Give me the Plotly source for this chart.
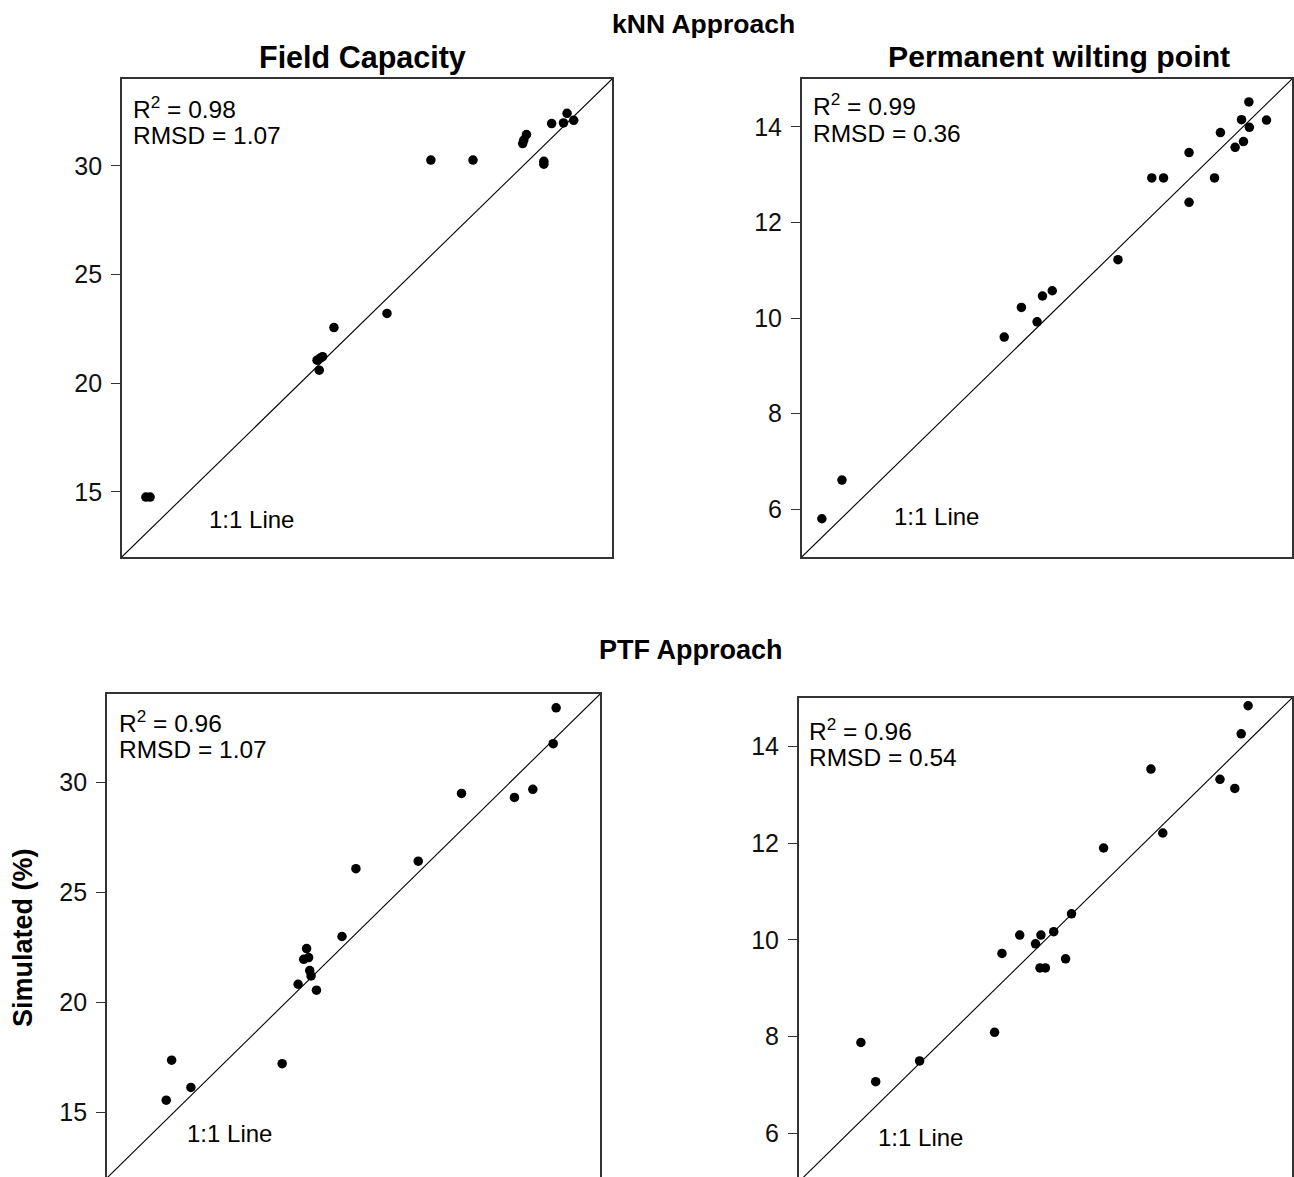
import plotly.graph_objects as go

# ---------------- data ----------------
# kNN approach - Field Capacity (measured vs simulated)
knn_fc_x = [13.08, 13.27, 20.76, 21.01, 20.86, 20.90, 21.52, 23.90, 25.87, 27.76,
            29.99, 30.04, 30.16, 30.94, 30.94, 31.29, 31.82, 31.98, 32.28]
knn_fc_y = [14.76, 14.76, 21.06, 21.22, 20.60, 21.15, 22.56, 23.21, 30.27, 30.27,
            31.03, 31.19, 31.44, 30.21, 30.08, 31.95, 31.98, 32.42, 32.10]

# kNN approach - Permanent wilting point
knn_pwp_x = [5.41, 5.82, 9.13, 9.48, 9.80, 9.91, 10.11, 11.45, 12.14, 12.38,
             12.90, 12.90, 13.42, 13.54, 13.84, 13.97, 14.01, 14.12, 14.13, 14.48]
knn_pwp_y = [5.80, 6.61, 9.60, 10.22, 9.92, 10.46, 10.57, 11.22, 12.93, 12.93,
             13.46, 12.42, 12.93, 13.88, 13.57, 14.15, 13.69, 14.52, 13.99, 14.14]

# PTF approach - Field Capacity
ptf_fc_x = [14.65, 14.89, 15.75, 19.82, 20.53, 20.78, 20.91, 21.00, 21.05, 21.11,
            21.35, 22.49, 23.11, 25.89, 27.82, 30.18, 31.00, 31.91, 32.04]
ptf_fc_y = [15.54, 17.36, 16.12, 17.20, 20.81, 21.94, 22.43, 22.02, 21.43, 21.19,
            20.54, 22.98, 26.06, 26.40, 29.48, 29.30, 29.67, 31.74, 33.37]

# PTF approach - Permanent wilting point
ptf_pwp_x = [6.26, 6.56, 7.45, 8.97, 9.12, 9.48, 9.80, 9.91, 9.89, 10.00,
             10.17, 10.41, 10.53, 11.18, 12.14, 12.38, 13.54, 13.84, 13.97, 14.11]
ptf_pwp_y = [7.88, 7.07, 7.50, 8.09, 9.72, 10.10, 9.92, 10.10, 9.42, 9.42,
             10.17, 9.61, 10.54, 11.90, 13.53, 12.21, 13.32, 13.13, 14.26, 14.84]

# 1:1 line end points
fc_line = [12, 34]
pwp_line = [5, 15]

fc_ticks = [15, 20, 25, 30]
pwp_ticks = [6, 8, 10, 12, 14]

stats = {
    1: ("0.98", "1.07"),
    2: ("0.99", "0.36"),
    3: ("0.96", "1.07"),
    4: ("0.96", "0.54"),
}

# ---------------- layout helpers ----------------
W, H = 1294, 1177
FONT = "Arial, 'Liberation Sans', sans-serif"


def px(xp):
    return xp / W


def py(yp):
    return 1 - yp / H


fig = go.Figure()

panels = [
    # (xaxis id, yaxis id, xs, ys, line, ticks, x domain px, y domain px, xrange, yrange, bottom)
    ("x", "y", knn_fc_x, knn_fc_y, fc_line, fc_ticks, (122, 613), (79, 557), [12, 34], [12, 34], False),
    ("x2", "y2", knn_pwp_x, knn_pwp_y, pwp_line, pwp_ticks, (803, 1294), (79, 557), [5, 15], [5, 15], False),
    ("x3", "y3", ptf_fc_x, ptf_fc_y, fc_line, fc_ticks, (107, 601), (694, 1177), [12, 34], [12.05, 34], True),
    ("x4", "y4", ptf_pwp_x, ptf_pwp_y, pwp_line, pwp_ticks, (800, 1294), (698, 1177), [5, 15], [5.10, 15], True),
]

FRAME = "#333333"

for i, (xa, ya, xs, ys, line, ticks, xd, yd, xr, yr, bottom) in enumerate(panels, start=1):
    fig.add_trace(go.Scatter(x=line, y=line, mode="lines",
                             line=dict(color="black", width=1.1),
                             xaxis=xa, yaxis=ya, showlegend=False, hoverinfo="skip"))
    fig.add_trace(go.Scatter(x=xs, y=ys, mode="markers",
                             marker=dict(color="black", size=9.5),
                             xaxis=xa, yaxis=ya, showlegend=False))
    suffix = "" if i == 1 else str(i)
    xaxis = dict(domain=[px(xd[0]), px(xd[1])], range=xr, showgrid=False, zeroline=False,
                 showticklabels=False, ticks="", showline=True, linecolor=FRAME, linewidth=1.5,
                 anchor=ya)
    if bottom:
        xaxis.update(side="top", mirror=False)
    else:
        xaxis.update(mirror=True)
    yaxis = dict(domain=[py(yd[1]), py(yd[0])], range=yr, showgrid=False, zeroline=False,
                 tickvals=ticks, ticks="outside", ticklen=9, tickwidth=1, tickcolor=FRAME,
                 showline=True, mirror=True, linecolor=FRAME, linewidth=1.5,
                 tickfont=dict(family=FONT, size=25, color="#111111"),
                 ticklabelstandoff=4, anchor=xa)
    fig.update_layout(**{"xaxis" + suffix: xaxis, "yaxis" + suffix: yaxis})

annotations = []


def txt(text, xp, yp, size, xanchor="center", bold=False, angle=0):
    if bold:
        text = "<b>" + text + "</b>"
    annotations.append(dict(text=text, x=px(xp), y=py(yp), xref="paper", yref="paper",
                            xanchor=xanchor, yanchor="middle", showarrow=False,
                            textangle=angle,
                            font=dict(family=FONT, size=size, color="black")))


# headings
txt("kNN Approach", 705, 24, 26.5, bold=True)
txt("PTF Approach", 692, 650, 27, bold=True)
txt("Field Capacity", 363, 58, 30.5, bold=True)
txt("Permanent wilting point", 1061, 56, 30.2, bold=True)
txt("Simulated (%)", 23, 937, 27, bold=True, angle=-90)

# stats text per panel: (left x, R2 line center y, RMSD line center y)
stat_pos = {1: (131, 107, 135), 2: (812, 105, 133), 3: (117, 721, 749), 4: (808, 729, 757)}
for k, (xl, y1, y2) in stat_pos.items():
    r2, rmsd = stats[k]
    txt("R<sup>2</sup> = " + r2, xl, y1, 24.5, xanchor="left")
    txt("RMSD = " + rmsd, xl, y2, 24.5, xanchor="left")

# 1:1 line labels
line_lab = {1: (207, 519), 2: (893, 516), 3: (185, 1133), 4: (877, 1137)}
for k, (xl, yc) in line_lab.items():
    txt("1:1 Line", xl, yc, 24, xanchor="left")

fig.update_layout(
    width=W, height=H,
    margin=dict(l=0, r=0, t=0, b=0),
    paper_bgcolor="white", plot_bgcolor="white",
    annotations=annotations,
    font=dict(family=FONT),
)

fig.write_html("out.html", config={"displayModeBar": False},
               post_script="document.body.style.margin='0';document.body.style.overflow='hidden';")
